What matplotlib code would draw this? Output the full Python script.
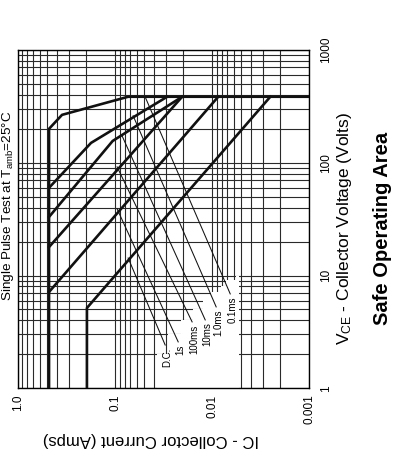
import matplotlib
matplotlib.use('Agg')
import matplotlib.pyplot as plt
import matplotlib.transforms as mtransforms
from matplotlib.ticker import FixedLocator, FixedFormatter, LogLocator, NullFormatter
from matplotlib.patches import Polygon

plt.rcParams['font.family'] = ['Liberation Sans', 'DejaVu Sans']
plt.rcParams['mathtext.fontset'] = 'custom'
plt.rcParams['mathtext.rm'] = 'Liberation Sans'
plt.rcParams['mathtext.it'] = 'Liberation Sans:italic'
plt.rcParams['mathtext.bf'] = 'Liberation Sans:bold'

# ---------------- data ----------------
ic_ticks = [1.0, 0.1, 0.01, 0.001]
ic_tick_labels = ['1.0', '0.1', '0.01', '0.001']
vce_ticks = [1, 10, 100, 1000]
vce_tick_labels = ['1', '10', '100', '1000']

curve_names = ['0.1ms', '1.0ms', '10ms', '100ms', '1s', 'D.C.']
# boundary of each SOA curve: collector current (A) and collector voltage (V)
ic_01ms = [0.479, 0.479, 0.352, 0.0734, 0.001]
vce_01ms = [1, 200, 266, 385, 385]
ic_1ms = [0.479, 0.177, 0.0291]
vce_1ms = [60, 150, 385]
ic_10ms = [0.479, 0.106, 0.0204]
vce_10ms = [33.1, 156, 385]
ic_100ms = [0.479, 0.0204]
vce_100ms = [17.9, 385]
ic_1s = [0.479, 0.00867]
vce_1s = [7.15, 385]
ic_dc = [0.195, 0.195, 0.00252]
vce_dc = [1, 5.16, 385]

# leader lines: (start on curve) -> (label end)
lead_ic_start = [0.0491, 0.0652, 0.0847, 0.0954, 0.0954, 0.0734]
lead_vce_start = [385, 261, 173, 92, 39, 14.3]
lead_ic_end = [0.00652, 0.0091, 0.0118, 0.0161, 0.0224, 0.0305]
lead_vce_end = [6.87, 5.27, 4.04, 3.88, 2.58, 2.42]

# white area behind the curve labels (staircase)
mask_ic = [0.0370, 0.0284, 0.0209, 0.0157, 0.0123, 0.0103, 0.00808, 0.00722, 0.00565]
mask_vce_top = [2.03, 3.04, 4.05, 5.06, 6.07, 7.08, 8.08, 9.1, 9.85]
mask_ic_right = 0.00525

# ---------------- figure ----------------
W, H = 398, 450
fig = plt.figure(figsize=(W / 100, H / 100), dpi=100)
ax = fig.add_axes([18 / W, 1 - 388.3 / H, 291.3 / W, 338.3 / H])
ax.set_xscale('log')
ax.set_yscale('log')
ax.set_xlim(1.0, 0.001)
ax.set_ylim(1, 1000)

ax.set_axisbelow(True)
ax.grid(True, which='both', color='#2a2a2a', lw=0.8)

ax.xaxis.set_major_locator(FixedLocator(ic_ticks))
ax.xaxis.set_major_formatter(FixedFormatter(ic_tick_labels))
ax.xaxis.set_minor_locator(LogLocator(base=10, subs=range(2, 10)))
ax.xaxis.set_minor_formatter(NullFormatter())
ax.yaxis.set_major_locator(FixedLocator(vce_ticks))
ax.yaxis.set_major_formatter(FixedFormatter(vce_tick_labels))
ax.yaxis.set_minor_locator(LogLocator(base=10, subs=range(2, 10)))
ax.yaxis.set_minor_formatter(NullFormatter())
ax.yaxis.tick_right()
ax.tick_params(which='both', length=0)
ax.tick_params(axis='x', labelrotation=90, pad=4.5, labelsize=8.5)
ax.tick_params(axis='y', labelrotation=90, pad=8, labelsize=8.5)
for lab in ax.get_yticklabels():
    lab.set_va('center')

for sp in ax.spines.values():
    sp.set_color('black')
    sp.set_linewidth(1.0)

# mask polygon
verts = [(mask_ic[0], 1)]
for i, (icv, vt) in enumerate(zip(mask_ic, mask_vce_top)):
    verts.append((icv, vt))
    if i + 1 < len(mask_ic):
        verts.append((mask_ic[i + 1], vt))
verts.append((mask_ic_right, mask_vce_top[-1]))
verts.append((mask_ic_right, 1))
ax.add_patch(Polygon(verts, closed=True, facecolor='white', edgecolor='none', zorder=1))

curves = [(ic_01ms, vce_01ms), (ic_1ms, vce_1ms), (ic_10ms, vce_10ms),
          (ic_100ms, vce_100ms), (ic_1s, vce_1s), (ic_dc, vce_dc)]
for icl, vcl in curves:
    ax.plot(icl, vcl, color='#111111', lw=1.9, solid_joinstyle='round', zorder=3)

for name, a, b, c, d in zip(curve_names, lead_ic_start, lead_vce_start, lead_ic_end, lead_vce_end):
    ax.plot([a, c], [b, d], color='#111111', lw=0.75, zorder=3)
    tr = mtransforms.offset_copy(ax.transData, fig=fig, x=2.0, y=-2.5, units='dots')
    ax.text(c, d, name, transform=tr, rotation=90, ha='center', va='top', fontsize=7, zorder=4)

# texts
fig.text(8.5 / W, 1 - 206 / H, r'Single Pulse Test at T$_{\mathrm{amb}}$=25°C', rotation=90,
         ha='center', va='center', fontsize=9.7)
fig.text(344 / W, 1 - 229 / H, r'V$_{\mathrm{CE}}$ - Collector Voltage (Volts)', rotation=90,
         ha='center', va='center', fontsize=12.5)
fig.text(382 / W, 1 - 228 / H, 'Safe Operating Area', rotation=90, ha='center', va='center',
         fontsize=14.5, fontweight='bold')
fig.text(151 / W, 1 - 440 / H, 'IC - Collector Current (Amps)', rotation=180, ha='center',
         va='center', fontsize=12)

fig.savefig('out.png', dpi=100)
